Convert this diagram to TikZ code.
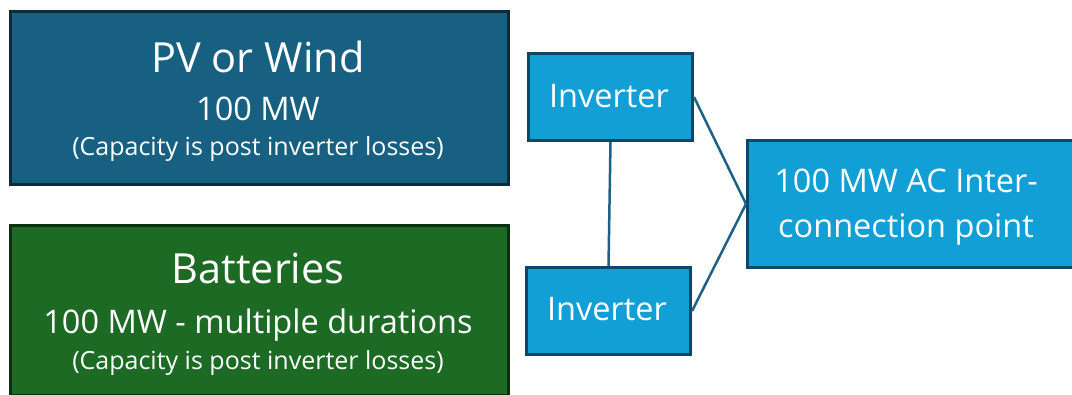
\documentclass[tikz,border=0pt]{standalone}
\usepackage{fontspec}
\setmainfont{Open Sans}
\definecolor{pvfill}{HTML}{186082}
\definecolor{pvedge}{HTML}{0E2A3B}
\definecolor{batfill}{HTML}{1D6A24}
\definecolor{batedge}{HTML}{0D3011}
\definecolor{invfill}{HTML}{129FD6}
\definecolor{invedge}{HTML}{0D4763}
\definecolor{wire}{HTML}{1B6286}
\tikzset{
  box/.style={draw, line width=3pt, inner sep=0pt, anchor=north west},
  pvbox/.style={box, fill=pvfill, draw=pvedge},
  batbox/.style={box, fill=batfill, draw=batedge},
  invbox/.style={box, fill=invfill, draw=invedge},
  txt/.style={text=white, anchor=base, inner sep=0pt},
  big/.style={txt, font=\fontsize{41.5}{48}\selectfont},
  mid/.style={txt, font=\fontsize{32.5}{38}\selectfont},
  small/.style={txt, font=\fontsize{25}{30}\selectfont},
  wireline/.style={draw=wire, line width=2.5pt},
}
\begin{document}
\begin{tikzpicture}[x=1pt, y=-1pt]
\useasboundingbox (0,0) rectangle (1072,394);
% sources
\node[pvbox, minimum width=498pt, minimum height=173pt] (pv) at (9,9.5) {};
\node[batbox, minimum width=498pt, minimum height=170pt] (bat) at (9,223.5) {};
\node[big] (pvt1) at (258,72) {PV or Wind};
\node[mid] (pvt2) at (258,120) {100 MW};
\node[small] (pvt3) at (258,155) {(Capacity is post inverter losses)};
\node[big] (bt1) at (258,283) {Batteries};
\node[mid] (bt2) at (258,333) {100 MW - multiple durations};
\node[small] (bt3) at (258,369) {(Capacity is post inverter losses)};
% inverters and grid connection (the last box runs off the right edge)
\node[invbox, minimum width=164pt, minimum height=87pt] (inv1) at (527,52) {};
\node[invbox, minimum width=164pt, minimum height=87pt] (inv2) at (525,266) {};
\node[invbox, minimum width=340pt, minimum height=127pt] (poi) at (746,139) {};
\node[mid] (it1) at (609,107) {Inverter};
\node[mid] (it2) at (607,320) {Inverter};
\node[mid] (pt1) at (906,192) {100 MW AC Inter-};
\node[mid] (pt2) at (906,237) {connection point};
% wiring
\draw[wireline] (inv1.south) -- (inv2.north);
\draw[wireline] (inv1.east) -- (poi.west);
\draw[wireline] (inv2.east) -- (poi.west);
\end{tikzpicture}
\end{document}
